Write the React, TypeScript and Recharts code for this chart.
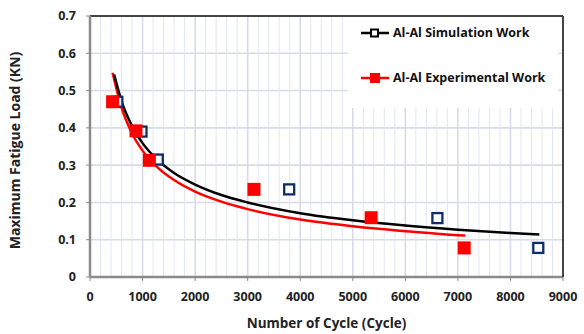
import React from "react";
import {
  ComposedChart, Line, Scatter, XAxis, YAxis, CartesianGrid, Legend, ReferenceLine,
} from "recharts";

// Axis ticks
const X_TICKS = [0, 1000, 2000, 3000, 4000, 5000, 6000, 7000, 8000, 9000];
const Y_TICKS = [0, 0.1, 0.2, 0.3, 0.4, 0.5, 0.6, 0.7];
const X_MINOR = [
  200, 400, 600, 800, 1200, 1400, 1600, 1800, 2200, 2400, 2600, 2800,
  3200, 3400, 3600, 3800, 4200, 4400, 4600, 4800, 5200, 5400, 5600, 5800,
  6200, 6400, 6600, 6800, 7200, 7400, 7600, 7800, 8200, 8400, 8600, 8800,
];

// Measured points
const SIM_CYCLES = [520, 980, 1290, 3790, 6610, 8530];
const SIM_LOAD = [0.47, 0.39, 0.315, 0.235, 0.158, 0.078];
const EXP_CYCLES = [430, 875, 1130, 3120, 5350, 7120];
const EXP_LOAD = [0.47, 0.392, 0.313, 0.235, 0.159, 0.078];

// Power-law trend curves
const SIM_FIT_X = [460, 600, 800, 1000, 1300, 1600, 2000, 2500, 3000, 4000, 5000, 6000, 7000, 8000, 8550];
const SIM_FIT_Y = [0.543, 0.472, 0.405, 0.359, 0.312, 0.279, 0.248, 0.22, 0.2, 0.171, 0.152, 0.138, 0.127, 0.118, 0.114];
const EXP_FIT_X = [430, 600, 800, 1000, 1300, 1600, 2000, 2500, 3000, 4000, 5000, 6000, 7000, 7140];
const EXP_FIT_Y = [0.548, 0.454, 0.385, 0.339, 0.292, 0.26, 0.229, 0.202, 0.182, 0.154, 0.136, 0.123, 0.112, 0.111];

const zip = (xs: number[], ys: number[]) => xs.map((x, i) => ({ x, y: ys[i] }));

const simPts = zip(SIM_CYCLES, SIM_LOAD);
const expPts = zip(EXP_CYCLES, EXP_LOAD);
const simFit = zip(SIM_FIT_X, SIM_FIT_Y);
const expFit = zip(EXP_FIT_X, EXP_FIT_Y);

const FONT = "'Open Sans', sans-serif";
const NAVY = "#0e2d6b";
const RED = "#ff0000";

// eslint-disable-next-line @typescript-eslint/no-explicit-any
const OpenSquare = (p: any) => (
  <rect x={p.cx - 5} y={p.cy - 5} width={10} height={10} fill="#fff" stroke={NAVY} strokeWidth={2.3} />
);
// eslint-disable-next-line @typescript-eslint/no-explicit-any
const FilledSquare = (p: any) => (
  <rect x={p.cx - 6.5} y={p.cy - 6.5} width={13} height={13} fill={RED} />
);

const LegendBox = () => (
  <div style={{ position: "relative", width: "100%", height: "100%", background: "#fff", fontFamily: FONT, fontWeight: 700, fontSize: 12.5, color: "#111" }}>
    <svg width={30} height={12} style={{ position: "absolute", left: 13, top: 10 }}>
      <line x1={0} y1={6} x2={28} y2={6} stroke="#000" strokeWidth={2.5} />
      <rect x={10} y={2.5} width={7} height={7} fill="#fff" stroke="#000" strokeWidth={2} />
    </svg>
    <span style={{ position: "absolute", left: 45, top: 7, whiteSpace: "nowrap" }}>Al-Al Simulation Work</span>
    <svg width={30} height={12} style={{ position: "absolute", left: 13, top: 55 }}>
      <line x1={0} y1={6} x2={28} y2={6} stroke={RED} strokeWidth={2.5} />
      <rect x={9} y={1} width={10} height={10} fill={RED} />
    </svg>
    <span style={{ position: "absolute", left: 45, top: 52, whiteSpace: "nowrap" }}>Al-Al Experimental Work</span>
  </div>
);

const tickStyle = { fontFamily: FONT, fontWeight: 700, fontSize: 12.5, fill: "#222" };

export default function App() {
  return (
    <div style={{ position: "absolute", left: 0, top: 0, background: "#fff" }}>
      <ComposedChart width={584} height={334} margin={{ top: 15, right: 20, bottom: 27, left: 30 }}>
        <CartesianGrid stroke="#d6dbe5" strokeWidth={1.6} />
        {/* minor vertical grid every 200 cycles */}
        {X_MINOR.map((v) => (
          <ReferenceLine key={v} x={v} stroke="#e2e6ee" strokeWidth={1} />
        ))}
        <XAxis
          type="number"
          dataKey="x"
          domain={[0, 9000]}
          ticks={X_TICKS}
          height={30}
          tick={tickStyle}
          tickSize={4}
          tickMargin={11}
          axisLine={{ stroke: "#8a8a8a", strokeWidth: 2.5 }}
          tickLine={{ stroke: "#8a8a8a" }}
          label={({ viewBox }: any) => (
            <text x={viewBox.x + viewBox.width / 2} y={viewBox.y + 51} textAnchor="middle"
              style={{ fontFamily: FONT, fontWeight: 700, fontSize: 13.5 }} fill="#222">
              Number of Cycle (Cycle)
            </text>
          )}
        />
        <XAxis xAxisId="top" orientation="top" type="number" domain={[0, 9000]} ticks={X_TICKS}
          height={1} tick={false} tickLine={false} axisLine={{ stroke: "#444", strokeWidth: 2 }} />
        <YAxis
          type="number"
          dataKey="y"
          domain={[0, 0.7]}
          ticks={Y_TICKS}
          width={60}
          tick={tickStyle}
          tickSize={4}
          tickMargin={10}
          tickFormatter={(v: number) => `${Math.round(v * 10) / 10}`}
          axisLine={{ stroke: "#8a8a8a", strokeWidth: 2.5 }}
          tickLine={{ stroke: "#8a8a8a" }}
          label={({ viewBox }: any) => {
            const cx = viewBox.x - 10;
            const cy = viewBox.y + viewBox.height / 2 + 4;
            return (
              <text x={cx} y={cy} textAnchor="middle" transform={`rotate(-90 ${cx} ${cy})`}
                style={{ fontFamily: FONT, fontWeight: 700, fontSize: 14 }} fill="#222">
                Maximum Fatigue Load (KN)
              </text>
            );
          }}
        />
        <YAxis yAxisId="right" orientation="right" type="number" domain={[0, 0.7]} ticks={Y_TICKS}
          width={1} tick={false} tickLine={false} axisLine={{ stroke: "#444", strokeWidth: 2 }} />
        <Legend
          layout="vertical"
          align="center"
          verticalAlign="middle"
          content={<LegendBox />}
          wrapperStyle={{ top: 17, left: 348, width: 210, height: 91 }}
        />
        <Scatter name="Al-Al Simulation Work" data={simPts} dataKey="y" shape={OpenSquare} isAnimationActive={false} legendType="none" />
        <Scatter name="Al-Al Experimental Work" data={expPts} dataKey="y" shape={FilledSquare} isAnimationActive={false} legendType="none" />
        <Line data={expFit} dataKey="y" type="monotone" stroke={RED} strokeWidth={2.5} dot={false} isAnimationActive={false} legendType="none" />
        <Line data={simFit} dataKey="y" type="monotone" stroke="#000" strokeWidth={2.5} dot={false} isAnimationActive={false} legendType="none" />
      </ComposedChart>
    </div>
  );
}
